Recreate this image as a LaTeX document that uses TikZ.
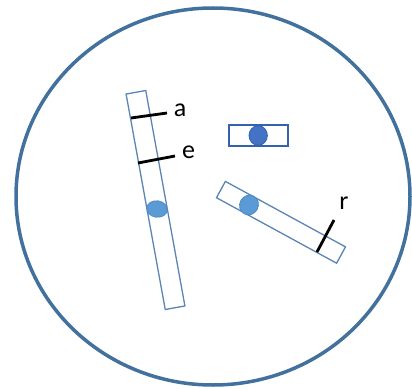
\documentclass[tikz,border=0pt]{standalone}
\usepackage{fontspec}
\setmainfont{Carlito}
\definecolor{ringblue}{HTML}{41719C}
\definecolor{barblue}{HTML}{5A85B5}
\definecolor{lightdot}{HTML}{5B9BD5}
\definecolor{lightdotline}{HTML}{4F88C6}
\definecolor{darkdot}{HTML}{4472C4}
\definecolor{darkdotline}{HTML}{3461B0}
\begin{document}
\begin{tikzpicture}[x=1pt,y=-1pt,
  ring/.style={draw=ringblue,line width=3.5pt},
  bar/.style={draw=barblue,line width=1.3pt,fill=white},
  lightcell/.style={fill=lightdot,draw=lightdotline,line width=0.8pt},
  darkcell/.style={fill=darkdot,draw=darkdotline,line width=0.8pt},
  tick/.style={draw=black,line width=2.8pt},
  lbl/.style={font=\fontsize{26}{28}\selectfont,inner sep=0pt}]
\useasboundingbox (0,0) rectangle (412,388);
% outer circle
\draw[ring] (213,196.5) ellipse [x radius=197, y radius=188.5];
% long tilted bar
\begin{scope}[shift={(155.5,200)},rotate=10.3]
  \draw[bar] (-10,-109.5) rectangle (10,109.5);
\end{scope}
\draw[lightcell] (157,209) ellipse [x radius=10.3, y radius=8.2, rotate=-8];
\draw[tick] (131,118) -- (167,113);
\draw[tick] (138,163) -- (175,156);
\node[lbl] (a) at (180,110) {a};
\node[lbl] (e) at (188.5,152) {e};
% small horizontal cell
\draw[bar,draw=darkdotline,line width=1.6pt] (229,125) rectangle (288,146);
\draw[darkcell] (258.2,135.5) ellipse [x radius=9.2, y radius=9.8];
% second tilted bar
\begin{scope}[shift={(281,222.3)},rotate=-28.6]
  \draw[bar] (-68.4,-9.3) rectangle (68.4,9.3);
\end{scope}
\draw[lightcell] (249,205) ellipse [x radius=9.3, y radius=10, rotate=-28.6];
\draw[tick] (317,252) -- (334,220);
\node[lbl] (r) at (344,203) {r};
\end{tikzpicture}
\end{document}
